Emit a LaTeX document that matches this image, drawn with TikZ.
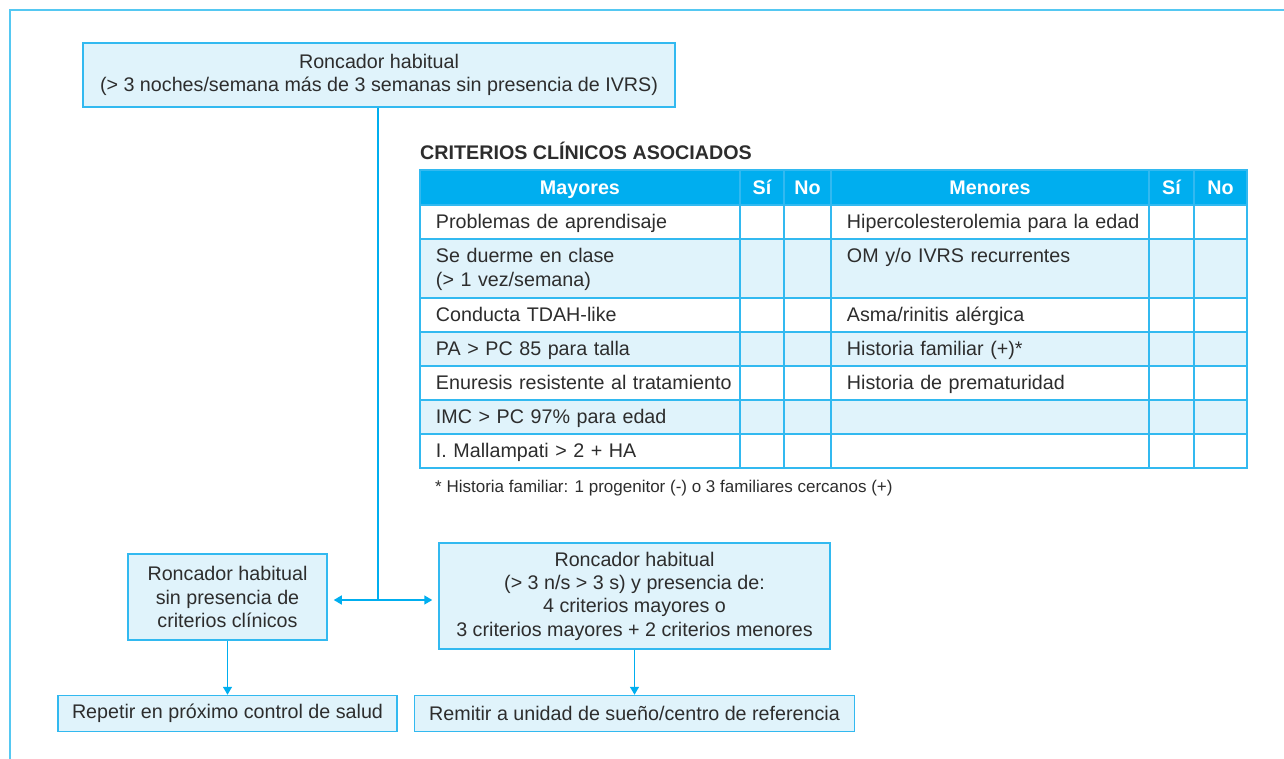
\documentclass[tikz,border=0pt]{standalone}
\usepackage{fontspec}
\setmainfont{Liberation Sans}
\usepackage{tikz}
\usetikzlibrary{matrix,arrows.meta,positioning}
\definecolor{cian}{RGB}{0,174,239}
\definecolor{cianclaro}{RGB}{224,243,251}
\definecolor{borde}{RGB}{50,185,240}
\definecolor{marco}{RGB}{85,200,242}
\definecolor{texto}{RGB}{45,45,45}
\newcommand{\txt}{\fontsize{19.7}{23.3}\selectfont}
\newcommand{\notafont}{\fontsize{17}{20}\selectfont}

\begin{document}
\begin{tikzpicture}[x=1pt,y=-1pt,
        caja/.style={draw=borde,line width=1.5pt,fill=cianclaro,align=center,font=\txt,text=texto,inner sep=0pt},
        flecha/.style={draw=cian,line width=1.5pt,-{Triangle[width=9pt,length=8pt]}},
        celda/.style={draw=borde,line width=1.5pt,anchor=north,inner ysep=0pt,inner xsep=16pt,fill=white,
                      text height=14pt,text depth=0pt,minimum height=34pt,font=\txt,text=texto},
        sino/.style={inner xsep=2pt,align=center},
        clara/.style={nodes={fill=cianclaro}}]
        \useasboundingbox (0,0) rectangle (1284,759);

        % marco
        \draw[marco,line width=2pt] (1284,10) -| (10,759);

        \node (ronc) [caja,minimum width=592pt,minimum height=64pt] at (379,75)
            {Roncador habitual\\(> 3 noches/semana más de 3 semanas sin presencia de IVRS)};

        \node (titulo) [anchor=base west,inner sep=0pt,font=\txt\bfseries,text=texto] at (420,160)
            {CRITERIOS CLÍNICOS ASOCIADOS};

        \matrix (crit) [matrix of nodes, nodes in empty cells, anchor=north west, inner sep=0pt,
                    column sep=-1.5pt, row sep=-1.5pt, nodes={celda},
                    column 1/.style={nodes={text width=288pt,align=left}},
                    column 2/.style={nodes={sino,text width=40pt}},
                    column 3/.style={nodes={sino,text width=43pt}},
                    column 4/.style={nodes={text width=286pt,align=left}},
                    column 5/.style={nodes={sino,text width=41pt}},
                    column 6/.style={nodes={sino,text width=49pt}},
                    row 1/.style={nodes={fill=cian,text=white,font=\txt\bfseries,align=center,minimum height=35pt}},
                    row 3/.style={clara,nodes={minimum height=59pt,text depth=25pt}},
                    row 5/.style={clara},
                    row 7/.style={clara}
                    ] at (419,169)
        {
         Mayores                                  & Sí & No & Menores                                  & Sí & No \\
         Problemas de aprendisaje                 &    &    & \mbox{Hipercolesterolemia para la edad}   &    &    \\
         {Se duerme en clase\\(> 1 vez/semana)}   &    &    & OM y/o IVRS recurrentes                  &    &    \\
         Conducta TDAH-like                       &    &    & Asma/rinitis alérgica                    &    &    \\
         PA > PC 85 para talla                    &    &    & Historia familiar (+)*                   &    &    \\
         \mbox{Enuresis resistente al tratamiento} &   &    & Historia de prematuridad                 &    &    \\
         IMC > PC 97\% para edad                  &    &    &                                          &    &    \\
         I. Mallampati > 2 + HA                   &    &    &                                          &    &    \\
        };

        \node (nota) [anchor=base west,inner sep=0pt,font=\notafont,text=texto] at (435,492)
            {* Historia familiar: 1 progenitor (-) o 3 familiares cercanos (+)};

        \node (sin) [caja,minimum width=199pt,minimum height=86pt] at (227.5,597)
            {Roncador habitual\\sin presencia de\\criterios clínicos};
        \node (con) [caja,minimum width=391pt,minimum height=106pt] at (634.5,596)
            {Roncador habitual\\(> 3 n/s > 3 s) y presencia de:\\4 criterios mayores o\\3 criterios mayores + 2 criterios menores};

        \node (repetir) [caja,minimum width=339pt,minimum height=36pt,below=54pt of sin]
            {Repetir en próximo control de salud};
        \node (remitir) [caja,minimum width=440pt,minimum height=36pt,below=45pt of con]
            {Remitir a unidad de sueño/centro de referencia};

        % conectores
        \coordinate (cruce) at (378,600);
        \draw[cian,line width=1.5pt] (ronc.south -| cruce) -- (cruce);
        \draw[flecha,shorten >=6pt] (cruce) -- (cruce -| sin.east);
        \draw[flecha,shorten >=6pt] (cruce) -- (cruce -| con.west);
        \draw[flecha] (sin) -- (repetir);
        \draw[flecha] (con.south) -- (con.south |- remitir.north);
\end{tikzpicture}
\end{document}
